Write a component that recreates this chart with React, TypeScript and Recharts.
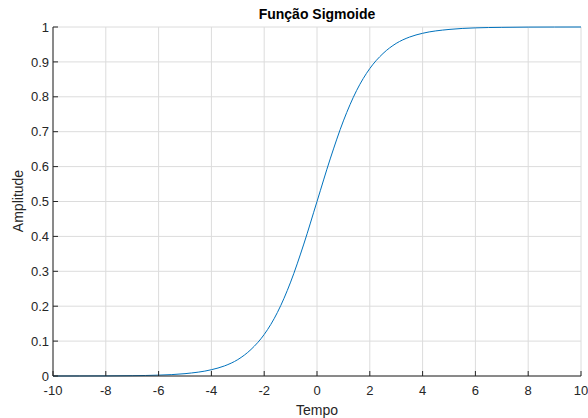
import React from "react";
import { LineChart, Line, XAxis, YAxis, CartesianGrid } from "recharts";

// values
const tempo = [-10, -9, -8, -7, -6, -5, -4, -3.5, -3, -2.5, -2, -1.5, -1, -0.5, 0, 0.5, 1, 1.5, 2, 2.5, 3, 3.5, 4, 5, 6, 7, 8, 9, 10];
const amplitude = [0.0, 0.0001, 0.0003, 0.0009, 0.0025, 0.0067, 0.018, 0.029, 0.047, 0.076, 0.119, 0.182, 0.269, 0.378, 0.5, 0.622, 0.731, 0.818, 0.881, 0.924, 0.953, 0.971, 0.982, 0.993, 0.9975, 0.999, 0.9997, 0.9999, 1.0];

const xTicks = [-10, -8, -6, -4, -2, 0, 2, 4, 6, 8, 10];
const yTicks = [0, 0.1, 0.2, 0.3, 0.4, 0.5, 0.6, 0.7, 0.8, 0.9, 1];

const data = tempo.map((t, i) => ({ t, y: amplitude[i] }));

const FONT = "'Liberation Sans', Arial, sans-serif";
const AXIS = "#262626";

export default function App() {
  return (
    <div style={{ position: "absolute", left: 0, top: 0, width: 588, height: 418, background: "#fff", fontFamily: FONT }}>
      <LineChart width={588} height={418} data={data} margin={{ top: 27, right: 7, bottom: 0, left: 0 }}>
        <CartesianGrid stroke="#dcdcdc" strokeWidth={1} />
        <XAxis
          dataKey="t"
          type="number"
          domain={[-10, 10]}
          ticks={xTicks}
          height={42}
          stroke={AXIS}
          tickSize={-5}
          tickMargin={15}
          tick={{ fill: AXIS, fontSize: 13, fontFamily: FONT }}
          interval={0}
        />
        <YAxis
          type="number"
          domain={[0, 1]}
          ticks={yTicks}
          width={53}
          stroke={AXIS}
          tickSize={-5}
          tickMargin={9}
          tick={{ fill: AXIS, fontSize: 13, fontFamily: FONT }}
          interval={0}
        />
        <Line
          dataKey="y"
          type="monotone"
          stroke="#0072BD"
          strokeWidth={1}
          dot={false}
          isAnimationActive={false}
        />
        <text x={317} y={19} textAnchor="middle" fontSize={14} fontWeight="bold" fill="#000" fontFamily={FONT}>
          Função Sigmoide
        </text>
        <text x={317} y={415} textAnchor="middle" fontSize={14} fill={AXIS} fontFamily={FONT}>
          Tempo
        </text>
        <text x={23} y={201} textAnchor="middle" fontSize={14} fill={AXIS} fontFamily={FONT} transform="rotate(-90 23 201)">
          Amplitude
        </text>
      </LineChart>
    </div>
  );
}
